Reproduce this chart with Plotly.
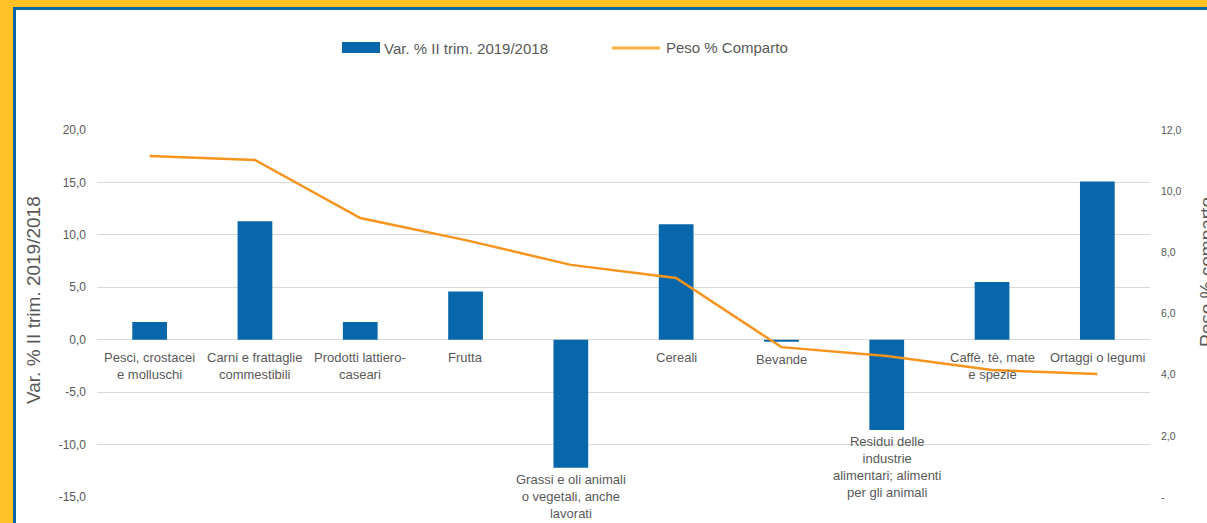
import plotly.graph_objects as go

categorie = [
    "Pesci, crostacei<br>e molluschi",
    "Carni e frattaglie<br>commestibili",
    "Prodotti lattiero-<br>caseari",
    "Frutta",
    "Grassi e oli animali<br>o vegetali, anche<br>lavorati",
    "Cereali",
    "Bevande",
    "Residui delle<br>industrie<br>alimentari; alimenti<br>per gli animali",
    "Caffè, tè, mate<br>e spezie",
    "Ortaggi o legumi",
]
var_pct = [1.7, 11.3, 1.7, 4.6, -12.2, 11.0, -0.2, -8.6, 5.5, 15.1]
peso_pct = [11.15, 11.02, 9.12, 8.40, 7.59, 7.16, 4.90, 4.61, 4.15, 4.02]

y_tickvals = [-15, -10, -5, 0, 5, 10, 15, 20]
y_ticktext = ["-15,0", "-10,0", "-5,0", "0,0", "5,0", "10,0", "15,0", "20,0"]
y2_tickvals = [0, 2, 4, 6, 8, 10, 12]
y2_ticktext = ["-", "2,0", "4,0", "6,0", "8,0", "10,0", "12,0"]

BLU = "#0867AB"
ARANCIO = "#F7941E"
GRIGIO = "#595959"
GIALLO = "#FFC125"
FONT = "Liberation Sans, Arial, sans-serif"

W, H = 1207, 523
L, R, T, B = 97, 57, 130, 26


def px(x):
    return (x - L) / (W - L - R)


def py(y):
    return (H - B - y) / (H - T - B)


x = list(range(len(categorie)))

fig = go.Figure()
fig.add_trace(go.Bar(
    x=x, y=var_pct, name="Var. % II trim. 2019/2018",
    marker=dict(color=BLU, line=dict(width=0)),
    width=0.33,
))
fig.add_trace(go.Scatter(
    x=x, y=peso_pct, name="Peso % Comparto", yaxis="y2",
    mode="lines", line=dict(color=ARANCIO, width=2.5),
))

# etichette di categoria sotto l'asse dello zero (o sotto la barra negativa)
annotations = []
for i, (lab, v) in enumerate(zip(categorie, var_pct)):
    base = min(0, v)
    annotations.append(dict(
        x=i, y=base, xref="x", yref="y", text=lab, showarrow=False,
        yanchor="top", xanchor="center", yshift=-8 if v > -1 else -2,
        font=dict(family=FONT, size=13, color=GRIGIO), align="center",
    ))

# titoli assi
annotations.append(dict(
    x=px(33), y=py(300), xref="paper", yref="paper",
    text="Var. % II trim. 2019/2018", textangle=-90, showarrow=False,
    xanchor="center", yanchor="middle",
    font=dict(family=FONT, size=19, color=GRIGIO),
))
annotations.append(dict(
    x=px(1206), y=py(272), xref="paper", yref="paper",
    text="Peso % comparto", textangle=-90, showarrow=False,
    xanchor="center", yanchor="middle",
    font=dict(family=FONT, size=19, color=GRIGIO),
))

# legenda
annotations.append(dict(
    x=px(382), y=py(48), xref="paper", yref="paper",
    text="Var. % II trim. 2019/2018", showarrow=False,
    xanchor="left", yanchor="middle",
    font=dict(family=FONT, size=15, color=GRIGIO),
))
annotations.append(dict(
    x=px(664), y=py(47), xref="paper", yref="paper",
    text="Peso % Comparto", showarrow=False,
    xanchor="left", yanchor="middle",
    font=dict(family=FONT, size=15, color=GRIGIO),
))

shapes = [
    # cornice gialla e bordo blu
    dict(type="rect", xref="paper", yref="paper", x0=px(0), x1=px(13),
         y0=py(0), y1=py(H), fillcolor=GIALLO, line=dict(width=0), layer="above"),
    dict(type="rect", xref="paper", yref="paper", x0=px(0), x1=px(W),
         y0=py(0), y1=py(7), fillcolor=GIALLO, line=dict(width=0), layer="above"),
    dict(type="rect", xref="paper", yref="paper", x0=px(13), x1=px(16),
         y0=py(7), y1=py(H), fillcolor="#0A66A6", line=dict(width=0), layer="above"),
    dict(type="rect", xref="paper", yref="paper", x0=px(13), x1=px(W),
         y0=py(7), y1=py(10), fillcolor="#0A66A6", line=dict(width=0), layer="above"),
    # simboli legenda
    dict(type="rect", xref="paper", yref="paper", x0=px(342), x1=px(380),
         y0=py(53), y1=py(42), fillcolor=BLU, line=dict(width=0)),
    dict(type="line", xref="paper", yref="paper", x0=px(612), x1=px(660),
         y0=py(48), y1=py(48), line=dict(color="#FBB040", width=3)),
]

fig.update_layout(
    width=W, height=H,
    margin=dict(l=L, r=R, t=T, b=B, autoexpand=False),
    paper_bgcolor="white", plot_bgcolor="white",
    showlegend=False,
    font=dict(family=FONT, color=GRIGIO),
    xaxis=dict(
        range=[-0.5, len(categorie) - 0.5], showticklabels=False,
        showgrid=False, zeroline=False, showline=False, ticks="",
    ),
    yaxis=dict(
        range=[-15, 20], tickvals=y_tickvals, ticktext=y_ticktext,
        showgrid=True, gridcolor="#D9D9D9", gridwidth=1,
        zeroline=True, zerolinecolor="#D9D9D9", zerolinewidth=1,
        showline=False, ticks="", ticklabelstandoff=10,
        tickfont=dict(family=FONT, size=12, color=GRIGIO),
    ),
    yaxis2=dict(
        overlaying="y", side="right", range=[0, 12],
        tickvals=y2_tickvals, ticktext=y2_ticktext,
        showgrid=False, zeroline=False, showline=False, ticks="",
        ticklabelstandoff=10,
        tickfont=dict(family=FONT, size=10.5, color=GRIGIO),
    ),
    annotations=annotations,
    shapes=shapes,
)

fig.write_html(
    "out.html",
    config={"displayModeBar": False},
    post_script="document.body.style.margin='0';document.body.style.overflow='hidden';",
)
